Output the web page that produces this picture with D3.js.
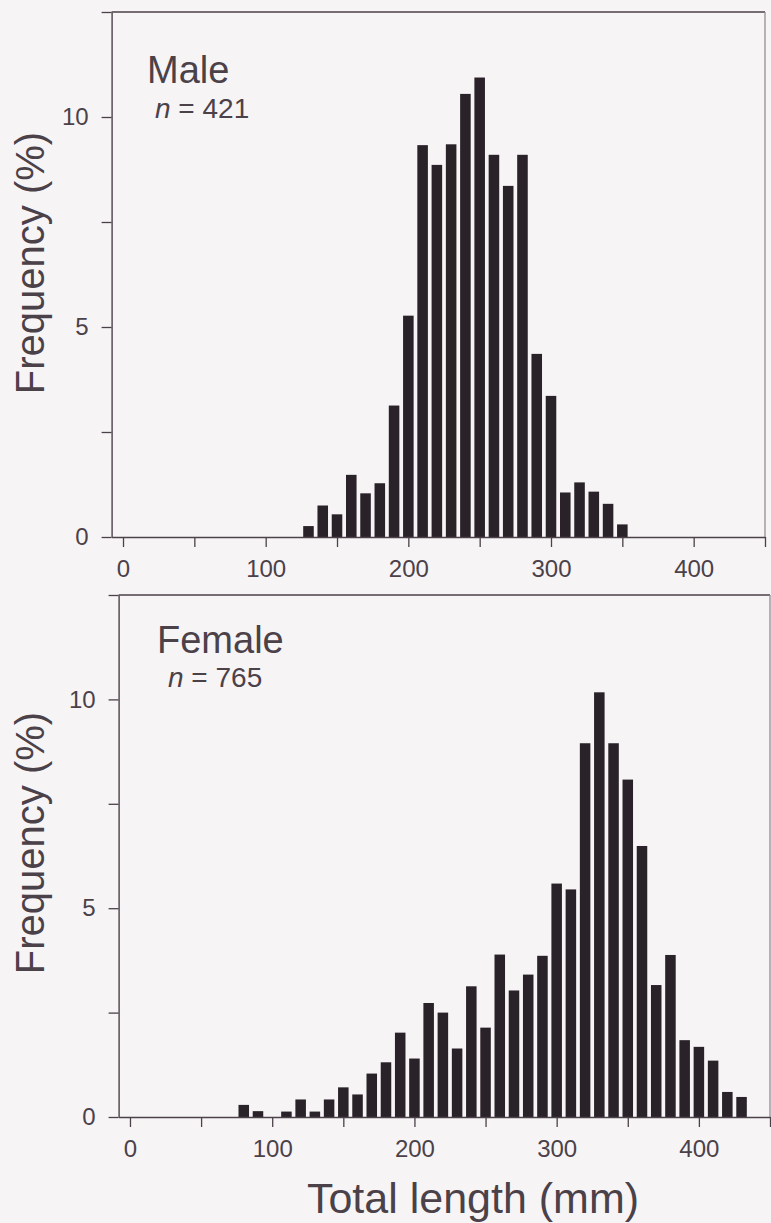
<!DOCTYPE html>
<html>
<head>
<meta charset="utf-8">
<script src="https://cdn.jsdelivr.net/npm/d3@7"></script>
<style>
  html, body { margin: 0; padding: 0; background: #f7f4f6; }
  svg { display: block; }
</style>
</head>
<body>
<div id="chart"></div>
<script>
// bin centres (mm) and frequency (%)
const maleBins = [130, 140, 150, 160, 170, 180, 190, 200, 210, 220, 230, 240, 250, 260, 270, 280, 290, 300, 310, 320, 330, 340, 350];
const maleFreq = [0.26, 0.75, 0.54, 1.48, 1.04, 1.28, 3.13, 5.27, 9.33, 8.86, 9.35, 10.55, 10.94, 9.1, 8.36, 9.1, 4.36, 3.36, 1.06, 1.3, 1.08, 0.79, 0.3];

const femaleBins = [80, 90, 110, 120, 130, 140, 150, 160, 170, 180, 190, 200, 210, 220, 230, 240, 250, 260, 270, 280, 290, 300, 310, 320, 330, 340, 350, 360, 370, 380, 390, 400, 410, 420, 430];
const femaleFreq = [0.29, 0.14, 0.13, 0.42, 0.13, 0.42, 0.71, 0.54, 1.04, 1.31, 2.02, 1.4, 2.73, 2.5, 1.64, 3.13, 2.14, 3.89, 3.03, 3.41, 3.86, 5.59, 5.45, 8.95, 10.17, 8.95, 8.08, 6.49, 3.16, 3.88, 1.84, 1.68, 1.35, 0.6, 0.48];

const xTicks = [0, 50, 100, 150, 200, 250, 300, 350, 400, 450];
const xLabels = [0, 100, 200, 300, 400];
const yTicks = [0, 2.5, 5, 7.5, 10, 12.5];
const yLabels = [0, 5, 10];
const xDomain = [-8, 450];
const yDomain = [0, 12.5];
const binWidth = 10;

const width = 771;
const height = 1223;
const ink = "#4b4149";
const barColor = "#2a2229";
const font = "'Liberation Sans', Arial, Helvetica, sans-serif";

const svg = d3
  .select("#chart")
  .append("svg")
  .attr("width", width)
  .attr("height", height)
  .style("background", "#f7f4f6");

// layout of each scanned panel (they sit slightly offset from each other)
var panels = [
  {
    name: "Male", n: "421", bins: maleBins, freq: maleFreq,
    xRange: [111.6, 765], yRange: [537, 12],
    nameX: 147, nameY: 83, nX: 155, nY: 118, titleY: 263
  },
  {
    name: "Female", n: "765", bins: femaleBins, freq: femaleFreq,
    xRange: [118.6, 770], yRange: [1117, 595],
    nameX: 157, nameY: 653, nX: 168, nY: 687, titleY: 843
  }
];

panels.forEach((p) => drawPanel(p));

svg
  .append("text")
  .attr("x", 473)
  .attr("y", 1213)
  .attr("text-anchor", "middle")
  .attr("fill", ink)
  .style("font-family", font)
  .style("font-size", "43px")
  .text("Total length (mm)");

function drawPanel(p) {
  const x = d3.scaleLinear().domain(xDomain).range(p.xRange);
  const y = d3.scaleLinear().domain(yDomain).range(p.yRange);
  const g = svg.append("g");

  const rows = p.bins.map((b, i) => ({ bin: b, value: p.freq[i] }));

  // bars
  g.selectAll(".bar")
    .data(rows)
    .enter()
    .append("rect")
    .attr("class", "bar")
    .attr("fill", barColor)
    .attr("x", (d) => x(d.bin - binWidth * 0.37))
    .attr("width", (d) => x(d.bin + binWidth * 0.37) - x(d.bin - binWidth * 0.37))
    .attr("y", (d) => y(d.value))
    .attr("height", (d) => y(0) - y(d.value));

  // frame top and right
  g.append("line")
    .attr("x1", x(xDomain[0]))
    .attr("x2", x(xDomain[1]))
    .attr("y1", y(yDomain[1]))
    .attr("y2", y(yDomain[1]))
    .attr("stroke", ink)
    .attr("stroke-width", 1.4);

  g.append("line")
    .attr("x1", x(xDomain[1]))
    .attr("x2", x(xDomain[1]))
    .attr("y1", y(yDomain[1]))
    .attr("y2", y(0))
    .attr("stroke", "#8d838b")
    .attr("stroke-width", 1.2);

  // x axis
  const xAxis = d3
    .axisBottom(x)
    .tickValues(xTicks)
    .tickSize(10)
    .tickSizeOuter(0)
    .tickPadding(13)
    .tickFormat((d) => (xLabels.includes(d) ? d : ""));

  const gx = g.append("g").attr("transform", "translate(0," + y(0) + ")").call(xAxis);

  // y axis
  const yAxis = d3
    .axisLeft(y)
    .tickValues(yTicks)
    .tickSize(10)
    .tickSizeOuter(0)
    .tickPadding(13)
    .tickFormat((d) => (yLabels.includes(d) ? d : ""));

  const gy = g.append("g").attr("transform", "translate(" + x(xDomain[0]) + ",0)").call(yAxis);

  [gx, gy].forEach((a) => {
    a.select(".domain").attr("stroke", ink).attr("stroke-width", 1.4);
    a.selectAll(".tick line").attr("stroke", ink).attr("stroke-width", 1.3);
    a.selectAll(".tick text")
      .attr("fill", ink)
      .style("font-family", font)
      .style("font-size", "24px");
  });

  // panel labels
  g.append("text")
    .attr("x", p.nameX)
    .attr("y", p.nameY)
    .attr("fill", ink)
    .style("font-family", font)
    .style("font-size", "38px")
    .text(p.name);

  const nt = g
    .append("text")
    .attr("x", p.nX)
    .attr("y", p.nY)
    .attr("fill", ink)
    .style("font-family", font)
    .style("font-size", "28px");
  nt.append("tspan").style("font-style", "italic").text("n");
  nt.append("tspan").text(" = " + p.n);

  // y title
  g.append("text")
    .attr("transform", "translate(44," + p.titleY + ") rotate(-90)")
    .attr("text-anchor", "middle")
    .attr("fill", ink)
    .style("font-family", font)
    .style("font-size", "40px")
    .text("Frequency (%)");
}
</script>
</body>
</html>
